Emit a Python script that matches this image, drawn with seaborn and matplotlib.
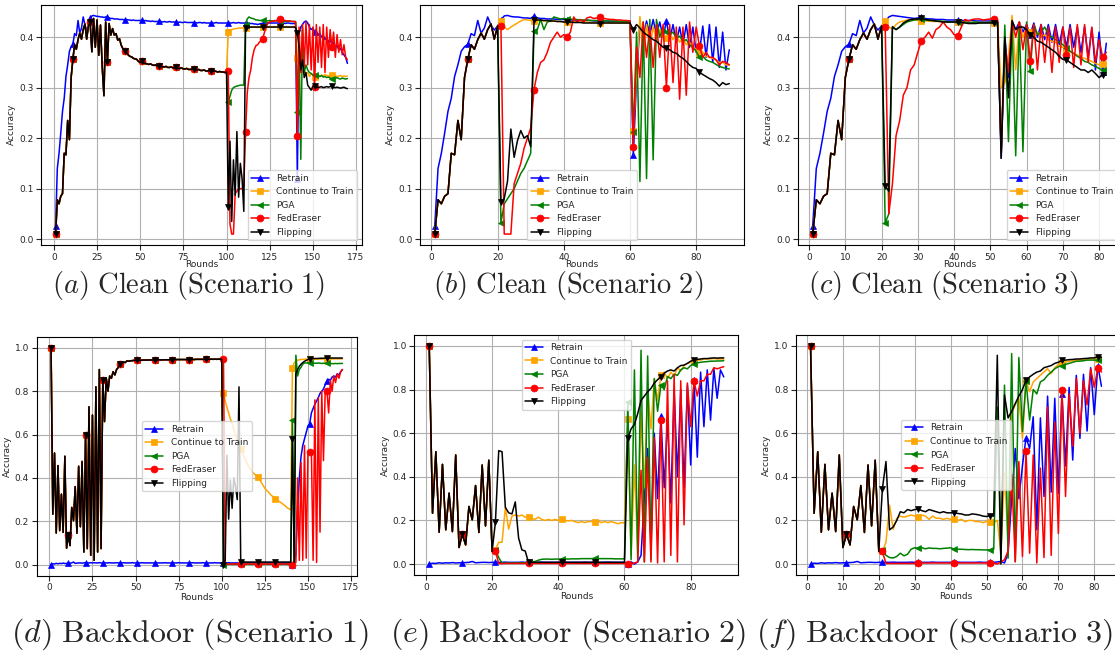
import matplotlib
matplotlib.use("Agg")
import matplotlib.pyplot as plt
import seaborn as sns

# Legend entries, colours and markers (same for all six panels)
methods = ["Retrain", "Continue to Train", "PGA", "FedEraser", "Flipping"]
colors = ["blue", "orange", "green", "red", "black"]
markers = ["^", "s", "<", "o", "v"]

# ---------------- Clean accuracy ----------------
# rounds 1-20 are shared by all runs except Retrain
clean_warm = [0.010, 0.078, 0.070, 0.085, 0.090, 0.170, 0.167, 0.235, 0.197, 0.320,
              0.356, 0.385, 0.376, 0.395, 0.408, 0.396, 0.415, 0.426, 0.396, 0.422]
clean_retrain_warm = [0.025, 0.140, 0.170, 0.210, 0.253, 0.279, 0.322, 0.345, 0.372, 0.381,
                      0.386, 0.407, 0.403, 0.433, 0.408, 0.418, 0.440, 0.424, 0.414, 0.422]

# Scenario 1: rounds 21-100 shared, then per method 101-170
s1_base = [0.430, 0.371, 0.437, 0.380, 0.434, 0.364, 0.424, 0.341, 0.284, 0.430,
           0.351, 0.427, 0.404, 0.417, 0.404, 0.407, 0.394, 0.397, 0.384, 0.377,
           0.372, 0.370, 0.365, 0.362, 0.361, 0.358, 0.357, 0.356, 0.352, 0.350,
           0.352, 0.349, 0.348, 0.347, 0.346, 0.347, 0.345, 0.344, 0.345, 0.343,
           0.342, 0.342, 0.341, 0.341, 0.342, 0.340, 0.340, 0.341, 0.339, 0.339,
           0.340, 0.338, 0.338, 0.339, 0.337, 0.337, 0.338, 0.336, 0.336, 0.337,
           0.336, 0.335, 0.335, 0.336, 0.334, 0.334, 0.335, 0.333, 0.333, 0.334,
           0.332, 0.332, 0.333, 0.332, 0.331, 0.332, 0.331, 0.331, 0.330, 0.331]
s1_retrain_tail = [0.437, 0.442, 0.443, 0.442, 0.441, 0.441, 0.440, 0.440, 0.439, 0.440,
                   0.440, 0.438, 0.437, 0.437, 0.436, 0.436, 0.436, 0.435, 0.435, 0.435,
                   0.434, 0.435, 0.434, 0.434, 0.433, 0.434, 0.433, 0.433, 0.433, 0.433,
                   0.433, 0.432, 0.433, 0.432, 0.432, 0.431, 0.432, 0.431, 0.431, 0.431,
                   0.431, 0.431, 0.430, 0.431, 0.430, 0.430, 0.431, 0.430, 0.430, 0.430,
                   0.430, 0.429, 0.430, 0.429, 0.429, 0.430, 0.429, 0.429, 0.429, 0.429,
                   0.429, 0.429, 0.428, 0.429, 0.429, 0.428, 0.429, 0.428, 0.428, 0.428,
                   0.428, 0.428, 0.428, 0.429, 0.428, 0.428, 0.428, 0.428, 0.428, 0.428,
                   0.428, 0.428, 0.428, 0.429, 0.428, 0.428, 0.429, 0.428, 0.428, 0.428,
                   0.428, 0.428, 0.427, 0.427, 0.427, 0.426, 0.426, 0.425, 0.426, 0.427,
                   0.427, 0.428, 0.428, 0.428, 0.428, 0.428, 0.428, 0.428, 0.428, 0.428,
                   0.428, 0.428, 0.428, 0.427, 0.428, 0.428, 0.427, 0.427, 0.427, 0.427,
                   0.120, 0.410, 0.420, 0.425, 0.430, 0.432, 0.428, 0.420, 0.415, 0.418,
                   0.410, 0.412, 0.404, 0.408, 0.400, 0.404, 0.395, 0.400, 0.390, 0.395,
                   0.385, 0.390, 0.380, 0.384, 0.375, 0.378, 0.370, 0.365, 0.360, 0.348]
s1_continue_tail = [0.410, 0.414, 0.415, 0.416, 0.417, 0.417, 0.418, 0.418, 0.418, 0.419,
                    0.419, 0.419, 0.419, 0.420, 0.420, 0.420, 0.420, 0.419, 0.420, 0.420,
                    0.420, 0.421, 0.420, 0.420, 0.421, 0.420, 0.420, 0.421, 0.420, 0.420,
                    0.421, 0.420, 0.420, 0.420, 0.421, 0.420, 0.420, 0.420, 0.421, 0.420,
                    0.358, 0.345, 0.335, 0.330, 0.335, 0.325, 0.330, 0.322, 0.328, 0.325,
                    0.322, 0.326, 0.324, 0.322, 0.325, 0.323, 0.326, 0.324, 0.323, 0.325,
                    0.325, 0.322, 0.324, 0.322, 0.323, 0.324, 0.322, 0.323, 0.322, 0.323]
s1_pga_tail = [0.271, 0.283, 0.295, 0.300, 0.302, 0.303, 0.304, 0.305, 0.305, 0.305,
               0.425, 0.436, 0.440, 0.438, 0.437, 0.436, 0.434, 0.434, 0.433, 0.433,
               0.433, 0.435, 0.433, 0.432, 0.433, 0.432, 0.432, 0.433, 0.432, 0.432,
               0.432, 0.431, 0.432, 0.431, 0.431, 0.432, 0.431, 0.431, 0.431, 0.431,
               0.252, 0.400, 0.158, 0.420, 0.330, 0.345, 0.335, 0.330, 0.328, 0.325,
               0.326, 0.323, 0.325, 0.322, 0.324, 0.321, 0.322, 0.320, 0.321, 0.319,
               0.318, 0.319, 0.318, 0.320, 0.318, 0.317, 0.319, 0.318, 0.317, 0.318]
s1_federaser_tail = [0.332, 0.030, 0.010, 0.010, 0.090, 0.095, 0.100, 0.100, 0.100, 0.105,
                     0.212, 0.290, 0.320, 0.335, 0.360, 0.375, 0.383, 0.385, 0.390, 0.393,
                     0.397, 0.410, 0.420, 0.428, 0.430, 0.431, 0.432, 0.432, 0.433, 0.434,
                     0.435, 0.434, 0.433, 0.433, 0.432, 0.432, 0.432, 0.431, 0.431, 0.430,
                     0.205, 0.420, 0.330, 0.425, 0.340, 0.430, 0.345, 0.425, 0.335, 0.420,
                     0.302, 0.425, 0.350, 0.420, 0.340, 0.425, 0.330, 0.420, 0.360, 0.415,
                     0.380, 0.410, 0.360, 0.405, 0.370, 0.395, 0.365, 0.385, 0.360, 0.355]
s1_flipping_tail = [0.064, 0.194, 0.035, 0.157, 0.087, 0.213, 0.083, 0.150, 0.120, 0.055,
                    0.418, 0.419, 0.419, 0.420, 0.420, 0.420, 0.420, 0.420, 0.420, 0.420,
                    0.420, 0.420, 0.420, 0.420, 0.420, 0.420, 0.420, 0.420, 0.420, 0.420,
                    0.420, 0.420, 0.420, 0.420, 0.420, 0.420, 0.420, 0.420, 0.420, 0.419,
                    0.408, 0.380, 0.335, 0.355, 0.320, 0.330, 0.305, 0.300, 0.295, 0.302,
                    0.303, 0.302, 0.300, 0.301, 0.302, 0.300, 0.301, 0.302, 0.301, 0.302,
                    0.303, 0.301, 0.300, 0.301, 0.300, 0.299, 0.300, 0.301, 0.299, 0.298]

# Scenario 2: per method rounds 21-90
s2_retrain_tail = [0.434, 0.442, 0.443, 0.441, 0.440, 0.440, 0.439, 0.438, 0.438, 0.437,
                   0.442, 0.438, 0.437, 0.437, 0.436, 0.436, 0.436, 0.435, 0.435, 0.435,
                   0.434, 0.434, 0.434, 0.433, 0.433, 0.433, 0.433, 0.433, 0.432, 0.432,
                   0.432, 0.432, 0.432, 0.431, 0.431, 0.431, 0.431, 0.431, 0.431, 0.431,
                   0.166, 0.320, 0.425, 0.400, 0.432, 0.405, 0.435, 0.405, 0.430, 0.400,
                   0.432, 0.395, 0.425, 0.390, 0.420, 0.385, 0.425, 0.380, 0.420, 0.370,
                   0.370, 0.422, 0.360, 0.425, 0.350, 0.420, 0.340, 0.410, 0.335, 0.375]
s2_continue_tail = [0.431, 0.420, 0.415, 0.420, 0.424, 0.428, 0.432, 0.435, 0.434, 0.433,
                    0.432, 0.432, 0.433, 0.432, 0.432, 0.431, 0.432, 0.431, 0.431, 0.430,
                    0.430, 0.430, 0.431, 0.430, 0.430, 0.429, 0.430, 0.429, 0.429, 0.428,
                    0.428, 0.428, 0.429, 0.428, 0.428, 0.428, 0.428, 0.428, 0.428, 0.428,
                    0.214, 0.330, 0.441, 0.360, 0.425, 0.380, 0.420, 0.395, 0.415, 0.400,
                    0.398, 0.410, 0.395, 0.405, 0.390, 0.400, 0.385, 0.390, 0.375, 0.378,
                    0.368, 0.370, 0.362, 0.360, 0.358, 0.355, 0.350, 0.350, 0.345, 0.345]
s2_pga_tail = [0.032, 0.070, 0.080, 0.090, 0.100, 0.115, 0.130, 0.140, 0.155, 0.170,
               0.412, 0.415, 0.435, 0.415, 0.430, 0.432, 0.440, 0.438, 0.436, 0.437,
               0.436, 0.436, 0.435, 0.435, 0.434, 0.434, 0.434, 0.433, 0.433, 0.433,
               0.433, 0.433, 0.432, 0.432, 0.432, 0.432, 0.431, 0.431, 0.431, 0.431,
               0.212, 0.410, 0.114, 0.430, 0.120, 0.435, 0.157, 0.435, 0.400, 0.420,
               0.410, 0.405, 0.410, 0.398, 0.402, 0.392, 0.395, 0.385, 0.380, 0.372,
               0.360, 0.362, 0.355, 0.352, 0.350, 0.346, 0.342, 0.340, 0.338, 0.337]
s2_federaser_tail = [0.423, 0.010, 0.010, 0.010, 0.110, 0.130, 0.150, 0.180, 0.200, 0.220,
                     0.296, 0.330, 0.350, 0.355, 0.370, 0.390, 0.400, 0.410, 0.400, 0.405,
                     0.400, 0.410, 0.440, 0.430, 0.435, 0.430, 0.438, 0.440, 0.437, 0.438,
                     0.440, 0.437, 0.436, 0.435, 0.435, 0.434, 0.434, 0.433, 0.433, 0.432,
                     0.183, 0.380, 0.320, 0.430, 0.360, 0.420, 0.340, 0.425, 0.360, 0.425,
                     0.300, 0.425, 0.310, 0.420, 0.277, 0.420, 0.285, 0.430, 0.370, 0.420,
                     0.382, 0.360, 0.370, 0.360, 0.360, 0.355, 0.345, 0.352, 0.350, 0.345]
s2_flipping_tail = [0.074, 0.080, 0.115, 0.218, 0.162, 0.195, 0.215, 0.200, 0.205, 0.183,
                    0.433, 0.434, 0.434, 0.433, 0.433, 0.432, 0.432, 0.431, 0.431, 0.430,
                    0.430, 0.430, 0.429, 0.429, 0.429, 0.428, 0.428, 0.428, 0.428, 0.428,
                    0.427, 0.428, 0.428, 0.428, 0.428, 0.428, 0.428, 0.428, 0.428, 0.428,
                    0.415, 0.425, 0.418, 0.410, 0.405, 0.400, 0.395, 0.392, 0.386, 0.380,
                    0.378, 0.375, 0.370, 0.368, 0.362, 0.358, 0.352, 0.345, 0.340, 0.338,
                    0.330, 0.326, 0.322, 0.318, 0.315, 0.310, 0.303, 0.310, 0.306, 0.308]

# Scenario 3: per method rounds 21-82
s3_retrain_tail = [0.430, 0.440, 0.443, 0.442, 0.441, 0.440, 0.439, 0.438, 0.437, 0.438,
                   0.440, 0.437, 0.436, 0.436, 0.435, 0.435, 0.435, 0.434, 0.434, 0.434,
                   0.434, 0.433, 0.433, 0.433, 0.433, 0.432, 0.432, 0.432, 0.432, 0.432,
                   0.432, 0.430, 0.160, 0.400, 0.320, 0.430, 0.415, 0.430, 0.410, 0.425,
                   0.405, 0.428, 0.400, 0.425, 0.395, 0.425, 0.390, 0.425, 0.385, 0.420,
                   0.380, 0.425, 0.380, 0.420, 0.370, 0.420, 0.360, 0.418, 0.335, 0.410,
                   0.330, 0.388]
s3_continue_tail = [0.431, 0.420, 0.416, 0.425, 0.430, 0.432, 0.434, 0.435, 0.434, 0.433,
                    0.432, 0.432, 0.432, 0.431, 0.431, 0.431, 0.430, 0.430, 0.430, 0.430,
                    0.430, 0.430, 0.430, 0.429, 0.429, 0.429, 0.429, 0.429, 0.429, 0.429,
                    0.429, 0.430, 0.300, 0.310, 0.360, 0.443, 0.335, 0.430, 0.400, 0.420,
                    0.410, 0.400, 0.410, 0.400, 0.405, 0.395, 0.392, 0.390, 0.382, 0.380,
                    0.375, 0.372, 0.367, 0.365, 0.360, 0.358, 0.355, 0.352, 0.348, 0.345,
                    0.347, 0.347]
s3_pga_tail = [0.032, 0.050, 0.421, 0.415, 0.420, 0.425, 0.430, 0.432, 0.434, 0.435,
               0.435, 0.434, 0.433, 0.433, 0.432, 0.432, 0.431, 0.431, 0.430, 0.430,
               0.430, 0.430, 0.430, 0.429, 0.429, 0.430, 0.429, 0.429, 0.429, 0.430,
               0.430, 0.430, 0.170, 0.424, 0.193, 0.430, 0.165, 0.430, 0.173, 0.430,
               0.333, 0.425, 0.405, 0.410, 0.420, 0.405, 0.400, 0.395, 0.390, 0.385,
               0.378, 0.372, 0.368, 0.362, 0.358, 0.352, 0.350, 0.345, 0.342, 0.338,
               0.335, 0.336]
s3_federaser_tail = [0.421, 0.050, 0.110, 0.205, 0.235, 0.285, 0.300, 0.335, 0.345, 0.370,
                     0.393, 0.400, 0.410, 0.398, 0.415, 0.420, 0.430, 0.420, 0.415, 0.405,
                     0.403, 0.420, 0.435, 0.432, 0.435, 0.436, 0.436, 0.434, 0.435, 0.436,
                     0.436, 0.433, 0.170, 0.390, 0.330, 0.430, 0.400, 0.430, 0.375, 0.425,
                     0.353, 0.425, 0.335, 0.425, 0.350, 0.420, 0.330, 0.420, 0.350, 0.420,
                     0.365, 0.420, 0.340, 0.425, 0.345, 0.425, 0.350, 0.420, 0.350, 0.395,
                     0.360, 0.370]
s3_flipping_tail = [0.105, 0.095, 0.420, 0.415, 0.420, 0.428, 0.432, 0.435, 0.436, 0.436,
                    0.437, 0.435, 0.434, 0.433, 0.432, 0.431, 0.430, 0.430, 0.430, 0.430,
                    0.430, 0.429, 0.428, 0.427, 0.427, 0.427, 0.428, 0.428, 0.428, 0.428,
                    0.428, 0.430, 0.160, 0.400, 0.280, 0.433, 0.415, 0.420, 0.420, 0.415,
                    0.405, 0.400, 0.392, 0.390, 0.385, 0.380, 0.375, 0.370, 0.362, 0.356,
                    0.355, 0.350, 0.345, 0.340, 0.335, 0.335, 0.330, 0.335, 0.328, 0.320,
                    0.325, 0.325]

# ---------------- Backdoor accuracy ----------------
bd_warm = [1.000, 0.233, 0.515, 0.146, 0.457, 0.157, 0.325, 0.149, 0.500, 0.076,
           0.137, 0.088, 0.264, 0.203, 0.360, 0.145, 0.454, 0.175, 0.476, 0.058]
bd_retrain_warm = [0.000, 0.004, 0.003, 0.006, 0.004, 0.006, 0.005, 0.007, 0.005, 0.006,
                   0.006, 0.007, 0.008, 0.012, 0.006, 0.007, 0.008, 0.008, 0.007, 0.008]

# Scenario 1: rounds 21-100 shared, then per method 101-170
s4_base = [0.597, 0.074, 0.728, 0.043, 0.690, 0.020, 0.820, 0.058, 0.900, 0.074,
           0.850, 0.660, 0.860, 0.800, 0.870, 0.860, 0.890, 0.875, 0.900, 0.910,
           0.925, 0.928, 0.935, 0.932, 0.940, 0.938, 0.940, 0.941, 0.942, 0.942,
           0.943, 0.942, 0.943, 0.943, 0.944, 0.943, 0.944, 0.944, 0.944, 0.944,
           0.943, 0.944, 0.944, 0.945, 0.944, 0.945, 0.945, 0.945, 0.945, 0.945,
           0.946, 0.945, 0.946, 0.946, 0.946, 0.946, 0.946, 0.946, 0.946, 0.946,
           0.946, 0.946, 0.947, 0.946, 0.947, 0.947, 0.947, 0.947, 0.947, 0.947,
           0.948, 0.947, 0.947, 0.948, 0.947, 0.948, 0.947, 0.948, 0.948, 0.947]
s4_retrain_tail = [0.009, 0.008, 0.008, 0.009, 0.008, 0.009, 0.008, 0.008, 0.009, 0.008,
                   0.008, 0.009, 0.008, 0.008, 0.009, 0.008, 0.008, 0.008, 0.009, 0.008,
                   0.008, 0.008, 0.009, 0.008, 0.008, 0.008, 0.008, 0.009, 0.008, 0.008,
                   0.008, 0.008, 0.008, 0.009, 0.008, 0.008, 0.008, 0.008, 0.008, 0.008,
                   0.008, 0.009, 0.008, 0.008, 0.008, 0.008, 0.009, 0.008, 0.008, 0.008,
                   0.008, 0.008, 0.008, 0.008, 0.009, 0.008, 0.008, 0.008, 0.008, 0.008,
                   0.008, 0.008, 0.009, 0.008, 0.008, 0.008, 0.008, 0.008, 0.009, 0.008,
                   0.008, 0.008, 0.008, 0.008, 0.008, 0.009, 0.008, 0.008, 0.008, 0.008,
                   0.008, 0.008, 0.008, 0.009, 0.008, 0.008, 0.008, 0.008, 0.008, 0.008,
                   0.009, 0.008, 0.008, 0.008, 0.008, 0.008, 0.008, 0.009, 0.008, 0.008,
                   0.008, 0.008, 0.008, 0.008, 0.009, 0.008, 0.008, 0.008, 0.008, 0.008,
                   0.008, 0.008, 0.009, 0.008, 0.008, 0.008, 0.008, 0.008, 0.008, 0.008,
                   0.000, 0.005, 0.050, 0.250, 0.400, 0.500, 0.550, 0.580, 0.610, 0.640,
                   0.650, 0.700, 0.720, 0.740, 0.755, 0.770, 0.790, 0.800, 0.810, 0.830,
                   0.845, 0.855, 0.850, 0.865, 0.870, 0.865, 0.880, 0.875, 0.890, 0.900]
s4_continue_tail = [0.790, 0.755, 0.725, 0.700, 0.672, 0.650, 0.622, 0.600, 0.575, 0.555,
                    0.535, 0.515, 0.495, 0.478, 0.462, 0.448, 0.435, 0.425, 0.418, 0.410,
                    0.405, 0.392, 0.378, 0.365, 0.352, 0.343, 0.335, 0.326, 0.318, 0.312,
                    0.305, 0.300, 0.294, 0.288, 0.282, 0.276, 0.270, 0.262, 0.258, 0.252,
                    0.905, 0.930, 0.940, 0.943, 0.945, 0.946, 0.947, 0.947, 0.948, 0.948,
                    0.948, 0.948, 0.948, 0.948, 0.948, 0.949, 0.948, 0.948, 0.949, 0.949,
                    0.949, 0.949, 0.948, 0.949, 0.949, 0.949, 0.949, 0.949, 0.949, 0.949]
s4_pga_tail = [0.000, 0.001, 0.001, 0.001, 0.002, 0.001, 0.001, 0.002, 0.001, 0.001,
               0.001, 0.002, 0.001, 0.001, 0.002, 0.001, 0.001, 0.001, 0.002, 0.001,
               0.001, 0.002, 0.001, 0.001, 0.001, 0.002, 0.001, 0.001, 0.002, 0.001,
               0.001, 0.001, 0.002, 0.001, 0.001, 0.002, 0.001, 0.001, 0.001, 0.002,
               0.666, 0.005, 0.966, 0.870, 0.900, 0.910, 0.925, 0.930, 0.930, 0.932,
               0.930, 0.931, 0.930, 0.929, 0.929, 0.930, 0.929, 0.928, 0.929, 0.928,
               0.928, 0.927, 0.928, 0.927, 0.927, 0.928, 0.927, 0.928, 0.928, 0.928]
s4_federaser_tail = [0.947, 0.003, 0.003, 0.003, 0.003, 0.003, 0.003, 0.003, 0.003, 0.003,
                     0.003, 0.003, 0.003, 0.003, 0.003, 0.003, 0.003, 0.003, 0.003, 0.003,
                     0.003, 0.003, 0.003, 0.003, 0.003, 0.003, 0.003, 0.003, 0.003, 0.003,
                     0.003, 0.003, 0.003, 0.003, 0.003, 0.003, 0.003, 0.003, 0.003, 0.003,
                     0.000, 0.005, 0.010, 0.400, 0.020, 0.470, 0.020, 0.550, 0.030, 0.520,
                     0.520, 0.520, 0.020, 0.760, 0.010, 0.770, 0.150, 0.800, 0.480, 0.800,
                     0.800, 0.700, 0.850, 0.800, 0.870, 0.840, 0.880, 0.860, 0.890, 0.900]
s4_flipping_tail = [0.000, 0.020, 0.505, 0.210, 0.390, 0.260, 0.400, 0.360, 0.300, 0.820,
                    0.012, 0.012, 0.012, 0.012, 0.012, 0.012, 0.012, 0.012, 0.012, 0.012,
                    0.012, 0.012, 0.012, 0.012, 0.012, 0.012, 0.012, 0.012, 0.012, 0.012,
                    0.012, 0.012, 0.012, 0.012, 0.012, 0.012, 0.012, 0.012, 0.012, 0.012,
                    0.580, 0.010, 0.880, 0.900, 0.915, 0.925, 0.932, 0.938, 0.942, 0.946,
                    0.950, 0.950, 0.950, 0.951, 0.951, 0.951, 0.952, 0.952, 0.952, 0.953,
                    0.953, 0.953, 0.953, 0.953, 0.953, 0.953, 0.953, 0.953, 0.953, 0.953]

# Scenario 2: per method rounds 21-90
s5_retrain_tail = [0.008, 0.008, 0.008, 0.009, 0.008, 0.008, 0.008, 0.008, 0.009, 0.008,
                   0.008, 0.008, 0.008, 0.008, 0.009, 0.008, 0.008, 0.008, 0.008, 0.008,
                   0.008, 0.009, 0.008, 0.008, 0.008, 0.008, 0.008, 0.009, 0.008, 0.008,
                   0.008, 0.008, 0.008, 0.008, 0.009, 0.008, 0.008, 0.008, 0.008, 0.008,
                   0.000, 0.010, 0.000, 0.010, 0.040, 0.300, 0.530, 0.100, 0.600, 0.300,
                   0.680, 0.350, 0.670, 0.280, 0.800, 0.400, 0.800, 0.350, 0.820, 0.454,
                   0.843, 0.490, 0.880, 0.630, 0.890, 0.660, 0.896, 0.760, 0.890, 0.858]
s5_continue_tail = [0.066, 0.100, 0.100, 0.260, 0.160, 0.220, 0.225, 0.220, 0.225, 0.215,
                    0.215, 0.210, 0.205, 0.215, 0.205, 0.200, 0.205, 0.200, 0.205, 0.200,
                    0.205, 0.200, 0.198, 0.200, 0.195, 0.190, 0.195, 0.190, 0.195, 0.195,
                    0.195, 0.198, 0.190, 0.195, 0.190, 0.195, 0.190, 0.185, 0.190, 0.188,
                    0.665, 0.040, 0.455, 0.050, 0.700, 0.350, 0.800, 0.620, 0.850, 0.750,
                    0.865, 0.880, 0.850, 0.880, 0.860, 0.900, 0.885, 0.910, 0.920, 0.925,
                    0.930, 0.935, 0.935, 0.940, 0.940, 0.940, 0.943, 0.940, 0.940, 0.940]
s5_pga_tail = [0.065, 0.030, 0.005, 0.005, 0.005, 0.005, 0.005, 0.005, 0.006, 0.006,
               0.008, 0.010, 0.012, 0.018, 0.022, 0.023, 0.023, 0.022, 0.023, 0.023,
               0.023, 0.024, 0.023, 0.024, 0.024, 0.024, 0.025, 0.025, 0.025, 0.025,
               0.026, 0.025, 0.025, 0.025, 0.025, 0.025, 0.024, 0.024, 0.024, 0.024,
               0.744, 0.020, 0.890, 0.020, 0.980, 0.010, 0.954, 0.020, 0.850, 0.700,
               0.820, 0.800, 0.860, 0.850, 0.870, 0.865, 0.890, 0.900, 0.895, 0.910,
               0.919, 0.922, 0.925, 0.927, 0.928, 0.930, 0.930, 0.931, 0.931, 0.932]
s5_federaser_tail = [0.058, 0.003, 0.002, 0.003, 0.003, 0.003, 0.003, 0.003, 0.003, 0.003,
                     0.003, 0.003, 0.003, 0.003, 0.003, 0.003, 0.003, 0.003, 0.003, 0.003,
                     0.003, 0.003, 0.003, 0.003, 0.003, 0.003, 0.003, 0.003, 0.003, 0.003,
                     0.003, 0.003, 0.003, 0.003, 0.003, 0.003, 0.003, 0.003, 0.003, 0.003,
                     0.000, 0.000, 0.005, 0.010, 0.430, 0.010, 0.490, 0.010, 0.580, 0.005,
                     0.660, 0.010, 0.840, 0.040, 0.870, 0.010, 0.840, 0.180, 0.830, 0.630,
                     0.840, 0.770, 0.840, 0.840, 0.870, 0.870, 0.900, 0.895, 0.900, 0.905]
s5_flipping_tail = [0.192, 0.520, 0.515, 0.260, 0.235, 0.230, 0.285, 0.120, 0.065, 0.060,
                    0.008, 0.008, 0.008, 0.008, 0.008, 0.008, 0.008, 0.008, 0.008, 0.008,
                    0.008, 0.008, 0.008, 0.008, 0.008, 0.008, 0.008, 0.008, 0.008, 0.008,
                    0.008, 0.008, 0.008, 0.008, 0.008, 0.008, 0.008, 0.008, 0.008, 0.008,
                    0.576, 0.620, 0.640, 0.690, 0.750, 0.770, 0.790, 0.805, 0.830, 0.845,
                    0.858, 0.875, 0.885, 0.890, 0.885, 0.900, 0.910, 0.912, 0.920, 0.930,
                    0.935, 0.938, 0.940, 0.942, 0.942, 0.944, 0.945, 0.944, 0.945, 0.945]

# Scenario 3: per method rounds 21-82
s6_retrain_tail = [0.008, 0.008, 0.008, 0.009, 0.008, 0.008, 0.008, 0.008, 0.009, 0.008,
                   0.008, 0.008, 0.008, 0.008, 0.009, 0.008, 0.008, 0.008, 0.008, 0.008,
                   0.008, 0.009, 0.008, 0.008, 0.008, 0.008, 0.008, 0.009, 0.008, 0.008,
                   0.008, 0.008, 0.010, 0.012, 0.005, 0.050, 0.300, 0.530, 0.300, 0.450,
                   0.580, 0.530, 0.675, 0.157, 0.670, 0.310, 0.770, 0.330, 0.760, 0.325,
                   0.780, 0.450, 0.810, 0.477, 0.865, 0.576, 0.870, 0.610, 0.900, 0.685,
                   0.910, 0.815]
s6_continue_tail = [0.058, 0.100, 0.270, 0.160, 0.210, 0.220, 0.215, 0.220, 0.225, 0.220,
                    0.215, 0.225, 0.220, 0.205, 0.220, 0.210, 0.210, 0.205, 0.210, 0.205,
                    0.205, 0.200, 0.205, 0.195, 0.200, 0.200, 0.195, 0.195, 0.190, 0.195,
                    0.195, 0.190, 0.200, 0.050, 0.420, 0.100, 0.690, 0.730, 0.760, 0.576,
                    0.840, 0.790, 0.835, 0.850, 0.866, 0.880, 0.896, 0.873, 0.900, 0.915,
                    0.920, 0.925, 0.930, 0.932, 0.935, 0.935, 0.937, 0.940, 0.940, 0.940,
                    0.940, 0.935]
s6_pga_tail = [0.065, 0.040, 0.030, 0.028, 0.035, 0.050, 0.038, 0.045, 0.068, 0.075,
               0.072, 0.075, 0.070, 0.074, 0.072, 0.072, 0.070, 0.072, 0.073, 0.075,
               0.068, 0.068, 0.068, 0.067, 0.066, 0.067, 0.066, 0.066, 0.065, 0.065,
               0.065, 0.068, 0.720, 0.020, 0.820, 0.027, 0.965, 0.012, 0.947, 0.607,
               0.840, 0.660, 0.800, 0.780, 0.835, 0.845, 0.865, 0.880, 0.895, 0.905,
               0.910, 0.915, 0.920, 0.925, 0.930, 0.930, 0.932, 0.935, 0.935, 0.935,
               0.935, 0.935]
s6_federaser_tail = [0.058, 0.003, 0.003, 0.003, 0.003, 0.003, 0.003, 0.003, 0.003, 0.003,
                     0.005, 0.005, 0.005, 0.005, 0.005, 0.005, 0.005, 0.005, 0.005, 0.005,
                     0.005, 0.005, 0.005, 0.005, 0.005, 0.005, 0.005, 0.005, 0.005, 0.005,
                     0.005, 0.005, 0.000, 0.010, 0.020, 0.060, 0.410, 0.010, 0.470, 0.035,
                     0.518, 0.050, 0.500, 0.005, 0.440, 0.030, 0.720, 0.040, 0.650, 0.140,
                     0.800, 0.310, 0.780, 0.540, 0.850, 0.600, 0.840, 0.730, 0.895, 0.810,
                     0.897, 0.880]
s6_flipping_tail = [0.345, 0.470, 0.157, 0.170, 0.200, 0.240, 0.235, 0.250, 0.245, 0.250,
                    0.252, 0.245, 0.240, 0.250, 0.245, 0.240, 0.235, 0.240, 0.235, 0.235,
                    0.235, 0.232, 0.230, 0.225, 0.225, 0.230, 0.228, 0.225, 0.220, 0.218,
                    0.222, 0.220, 0.957, 0.000, 0.775, 0.670, 0.700, 0.736, 0.770, 0.800,
                    0.843, 0.858, 0.870, 0.880, 0.885, 0.900, 0.905, 0.910, 0.920, 0.925,
                    0.934, 0.935, 0.937, 0.938, 0.940, 0.940, 0.942, 0.943, 0.945, 0.945,
                    0.950, 0.948]

captions = [r"$(a)\ \mathrm{Clean\ (Scenario\ 1)}$",
            r"$(b)\ \mathrm{Clean\ (Scenario\ 2)}$",
            r"$(c)\ \mathrm{Clean\ (Scenario\ 3)}$",
            r"$(d)\ \mathrm{Backdoor\ (Scenario\ 1)}$",
            r"$(e)\ \mathrm{Backdoor\ (Scenario\ 2)}$",
            r"$(f)\ \mathrm{Backdoor\ (Scenario\ 3)}$"]

panel_series = [
    [clean_retrain_warm + s1_retrain_tail,
     clean_warm + s1_base + s1_continue_tail,
     clean_warm + s1_base + s1_pga_tail,
     clean_warm + s1_base + s1_federaser_tail,
     clean_warm + s1_base + s1_flipping_tail],
    [clean_retrain_warm + s2_retrain_tail,
     clean_warm + s2_continue_tail,
     clean_warm + s2_pga_tail,
     clean_warm + s2_federaser_tail,
     clean_warm + s2_flipping_tail],
    [clean_retrain_warm + s3_retrain_tail,
     clean_warm + s3_continue_tail,
     clean_warm + s3_pga_tail,
     clean_warm + s3_federaser_tail,
     clean_warm + s3_flipping_tail],
    [bd_retrain_warm + s4_retrain_tail,
     bd_warm + s4_base + s4_continue_tail,
     bd_warm + s4_base + s4_pga_tail,
     bd_warm + s4_base + s4_federaser_tail,
     bd_warm + s4_base + s4_flipping_tail],
    [bd_retrain_warm + s5_retrain_tail,
     bd_warm + s5_continue_tail,
     bd_warm + s5_pga_tail,
     bd_warm + s5_federaser_tail,
     bd_warm + s5_flipping_tail],
    [bd_retrain_warm + s6_retrain_tail,
     bd_warm + s6_continue_tail,
     bd_warm + s6_pga_tail,
     bd_warm + s6_federaser_tail,
     bd_warm + s6_flipping_tail],
]

# layout (pixels of the 1115x651 canvas): left, top, right, bottom
W, H = 1115, 651
boxes = [(41, 4.5, 362, 245), (420, 4.5, 744, 245), (798, 4.5, 1121, 245),
         (36.5, 337, 357, 575.5), (414.5, 335, 738.5, 575), (796, 335, 1116, 575)]
legend_locs = ["lower right", "lower center", "lower right", "center", "upper center", "center"]
# caption centre x, baseline y and size
caption_pos = [(189, 293), (568, 293), (943, 293), (190, 642), (568, 642), (935, 642)]
caption_size = [20.5, 20.5, 20.5, 23, 23, 23]

sns.set_theme(style="whitegrid", rc={
    "axes.edgecolor": "black", "axes.linewidth": 0.8,
    "grid.color": "#b0b0b0", "grid.linewidth": 0.8,
    "xtick.bottom": True, "ytick.left": True,
    "xtick.major.size": 3.5, "ytick.major.size": 3.5,
    "xtick.major.width": 0.8, "ytick.major.width": 0.8,
    "xtick.color": "#262626", "ytick.color": "#262626",
})
plt.rcParams["font.family"] = ["DejaVu Sans"]
plt.rcParams["mathtext.fontset"] = "cm"

fig = plt.figure(figsize=(W / 100, H / 100), dpi=100)

for i, series in enumerate(panel_series):
    l, t, r, b = boxes[i]
    ax = fig.add_axes([l / W, 1 - b / H, (r - l) / W, (b - t) / H])
    for name, col, mk, vals in zip(methods, colors, markers, series):
        rounds = list(range(1, len(vals) + 1))
        sns.lineplot(x=rounds, y=vals, ax=ax, color=col, marker=mk, markevery=10,
                     markersize=5, markeredgecolor=col, markeredgewidth=0.5,
                     linewidth=1.1, label=name)
    ax.set_xlabel("Rounds", fontsize=6.5, labelpad=-1.5 if i < 3 else 0.5)
    ax.set_ylabel("Accuracy", fontsize=6.5, labelpad=2)
    ax.tick_params(labelsize=6.5, pad=2)
    ax.legend(loc=legend_locs[i], fontsize=6.5, fancybox=True, framealpha=0.8,
              edgecolor="#cccccc", borderpad=0.4, labelspacing=0.5)
    cx, cy = caption_pos[i]
    fig.text(cx / W, 1 - cy / H, captions[i], ha="center", va="baseline",
             fontsize=caption_size[i])

fig.savefig("out.png", dpi=100)
